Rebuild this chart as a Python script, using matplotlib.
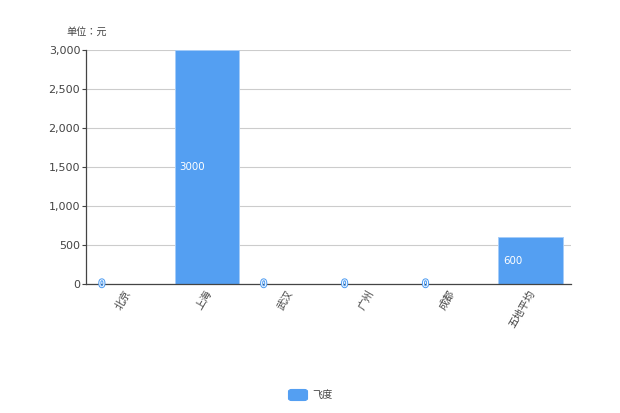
import matplotlib
matplotlib.use('Agg')
import matplotlib.pyplot as plt
import matplotlib.patheffects as pe
from matplotlib.patches import FancyBboxPatch
from matplotlib.transforms import ScaledTranslation

plt.rcParams['font.family'] = ['Noto Sans CJK SC', 'DejaVu Sans']

cities = ['北京', '上海', '武汉', '广州', '成都', '五地平均']
values = [0, 3000, 0, 0, 0, 600]
yticks = [0, 500, 1000, 1500, 2000, 2500, 3000]
series_name = '飞度'
unit = '单位：元'

blue = '#549ff2'
dark = '#444444'
W, H = 620, 413

fig = plt.figure(figsize=(6.2, 4.13), dpi=100)
ax = fig.add_axes([85.5/W, 1-284/H, 485.5/W, 234.3/H])

x = range(len(cities))
ax.set_axisbelow(True)
ax.yaxis.grid(True, color='#cccccc', lw=0.8)
ax.bar(x, values, width=0.8, color=blue, edgecolor='#a5ccf8', lw=0.7)

ax.set_xlim(-0.5, 5.5)
ax.set_ylim(0, 3000)
ax.set_yticks(yticks)
ax.set_yticklabels([f'{v:,}' for v in yticks], fontsize=8, color=dark, family='DejaVu Sans')
ax.set_xticks(list(x))
ax.set_xticklabels(cities, fontsize=7.5, color=dark, rotation=60, ha='right', va='top', rotation_mode='anchor')
ax.tick_params(axis='y', length=3, color=dark, pad=0.8, width=0.8)
ax.tick_params(axis='x', length=0, pad=3)

# 左へ少しずらす
shift = ScaledTranslation(-2/100, 0, fig.dpi_scale_trans)
for t in ax.get_xticklabels():
    t.set_transform(t.get_transform() + shift)

ax.spines['top'].set_visible(False)
ax.spines['right'].set_visible(False)
for s in ['left', 'bottom']:
    ax.spines[s].set_color(dark)
    ax.spines[s].set_linewidth(0.9)

# 棒の中の数値
for i, v in enumerate(values):
    if v > 0:
        ax.annotate(str(v), (i-0.4, v/2), xytext=(5, 0), textcoords='offset pixels',
                    color='white', fontsize=7.4, va='center', ha='left', family='DejaVu Sans')
    else:
        ax.annotate(str(v), (i-0.4, v/2), xytext=(5, 0), textcoords='offset pixels',
                    color='white', fontsize=7.4, va='center', ha='left', family='DejaVu Sans',
                    annotation_clip=False,
                    path_effects=[pe.withStroke(linewidth=1.5, foreground=blue)])

fig.text(66/W, 1-32/H, unit, fontsize=7.3, color=dark, va='center', ha='left',
         family=['Noto Sans CJK TC', 'DejaVu Sans'])

# 凡例
fig.add_artist(FancyBboxPatch((288.5/W, 1-400.5/H), 19/W, 11/H, boxstyle='round,pad=0,rounding_size=0.005',
                              transform=fig.transFigure, fc=blue, ec=blue, lw=0.8))
fig.text(312/W, 1-395/H, series_name, fontsize=7.3, color=dark, va='center', ha='left')

fig.savefig('out.png', dpi=100)
